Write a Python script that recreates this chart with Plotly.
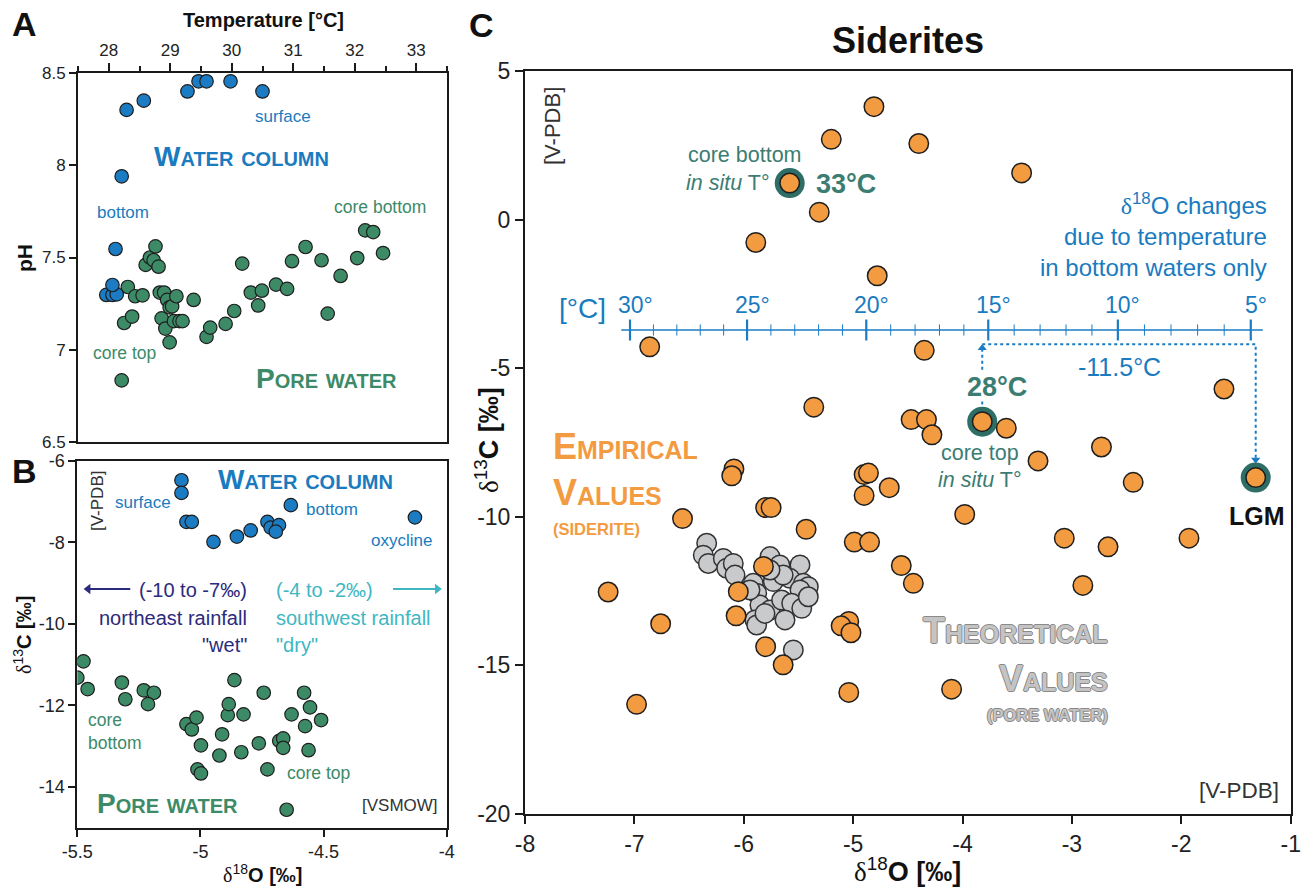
import numpy as np
import plotly.graph_objects as go

W, H = 1306, 890
FONT = "Liberation Sans, Arial, Helvetica, sans-serif"
SERIF = "Liberation Serif, Times New Roman, serif"

BLUE = "#1b7cc4"
GREEN = "#3d8b66"
ORANGE = "#f29b40"
GREY = "#c9cacc"
EDGE = "#1e1e1e"
RING = "#2f6e66"
BLUE_TXT = "#1a7bbf"
GREEN_TXT = "#3c8a68"
TEAL_TXT = "#3b7d72"
NAVY = "#2c2a7c"
CYAN = "#3fb7c2"
AXIS = "#1a1a1a"

# ---------------- Panel A: temperature vs pH ----------------
a_water_temp = [27.96, 28.06, 28.13, 28.06, 28.11, 28.21, 28.29, 28.57, 29.28, 29.46, 29.59, 29.98, 30.50]
a_water_ph = [7.297, 7.297, 7.300, 7.351, 7.546, 7.940, 8.300, 8.350, 8.400, 8.455, 8.455, 8.455, 8.400]

a_pore_temp = [28.21, 28.25, 28.38, 28.31, 28.43, 28.55, 28.60, 28.67, 28.73, 28.76, 28.81,
               28.83, 28.90, 28.95, 28.99, 29.03, 29.10, 28.86, 28.92, 28.99, 29.06, 29.15,
               29.20, 29.38, 29.59, 29.65, 29.90, 30.04, 30.17, 30.31, 30.43, 30.49, 30.72,
               30.90, 30.98, 31.20, 31.46, 31.56, 31.77, 32.04, 32.17, 32.30, 32.46]
a_pore_ph = [6.834, 7.145, 7.180, 7.340, 7.290, 7.295, 7.460, 7.500, 7.485, 7.560, 7.450,
             7.310, 7.310, 7.270, 7.230, 7.235, 7.290, 7.170, 7.115, 7.040, 7.155, 7.155,
             7.155, 7.270, 7.070, 7.120, 7.140, 7.210, 7.467, 7.310, 7.240, 7.320, 7.353,
             7.330, 7.480, 7.557, 7.485, 7.196, 7.400, 7.497, 7.647, 7.638, 7.524]

a_temp_ticks = [28, 29, 30, 31, 32, 33]
a_ph_ticks = [6.5, 7, 7.5, 8, 8.5]

# ---------------- Panel B: d18O vs d13C (water) ----------------
b_water_d18o = [-5.077, -5.077, -5.057, -5.035, -4.947, -4.852, -4.796, -4.728, -4.715,
                -4.681, -4.694, -4.633, -4.129]
b_water_d13c = [-6.48, -6.79, -7.50, -7.50, -7.99, -7.86, -7.71, -7.50, -7.64,
                -7.58, -7.74, -7.09, -7.39]

b_pore_d18o = [-5.500, -5.475, -5.458, -5.319, -5.305, -5.230, -5.189, -5.213, -5.057, -5.035,
               -5.016, -4.998, -5.012, -4.998, -4.923, -4.912, -4.889, -4.885, -4.862, -4.825,
               -4.834, -4.763, -4.743, -4.728, -4.680, -4.664, -4.664, -4.630, -4.579, -4.555,
               -4.575, -4.561, -4.510, -4.650]
b_pore_d13c = [-11.32, -10.92, -11.60, -11.44, -11.85, -11.63, -11.69, -11.97, -12.46, -12.59,
               -12.30, -12.98, -13.57, -13.67, -13.23, -12.71, -12.24, -11.97, -11.38, -12.22,
               -13.15, -12.93, -11.69, -13.57, -12.87, -12.81, -13.04, -12.22, -11.69, -12.05,
               -12.51, -13.10, -12.36, -14.56]

b_x_ticks = [-5.5, -5, -4.5, -4]
b_y_ticks = [-6, -8, -10, -12, -14]

# rainfall direction arrows (tail, head) in panel B units
b_arrow_level = -9.145
b_wet_arrow = [-5.285, -5.456]
b_dry_arrow = [-4.218, -4.038]

# ---------------- Panel C: siderites ----------------
c_emp_d18o = [-4.81, -5.20, -5.58, -4.40, -3.46, -5.31, -5.89, -4.78, -6.86, -4.35,
              -1.61, -5.36, -4.47, -4.33, -4.28, -3.82, -3.60, -2.73, -3.31, -2.44,
              -1.32, -4.90, -4.86, -4.90, -4.67, -3.98, -4.99, -4.85, -3.07, -2.67,
              -1.93, -4.56, -4.45, -2.90, -4.10, -5.04, -5.04, -5.11, -5.02, -6.09,
              -6.11, -6.56, -5.80, -5.75, -5.43, -5.82, -6.05, -7.24, -6.07, -6.76,
              -5.80, -5.64, -6.98]
c_emp_d13c = [3.80, 2.70, 1.23, 2.56, 1.57, 0.25, -0.77, -1.89, -4.28, -4.40,
              -5.70, -6.31, -6.73, -6.73, -7.24, -6.80, -7.02, -7.65, -8.12, -8.84,
              -8.68, -8.58, -8.53, -9.28, -9.02, -9.92, -10.85, -10.85, -10.72, -11.01,
              -10.72, -11.64, -12.24, -12.31, -15.80, -15.91, -13.52, -13.67, -13.90, -8.39,
              -8.62, -10.06, -9.69, -9.69, -10.42, -11.67, -12.52, -12.53, -13.33, -13.60,
              -14.37, -14.98, -16.31]

c_theo_d18o = [-6.339, -6.370, -6.324, -6.187, -6.156, -6.096, -6.080, -5.760, -5.670, -5.486,
               -5.913, -5.882, -5.730, -5.578, -5.456, -5.410, -5.486, -5.852, -5.760, -5.654,
               -5.562, -5.470, -5.898, -5.882, -5.806, -5.623, -5.547, -5.943, -5.640, -5.410,
               -5.760]
c_theo_d13c = [-10.89, -11.29, -11.57, -11.40, -11.73, -11.57, -11.96, -11.34, -11.62, -11.62,
               -12.24, -12.57, -12.18, -12.07, -12.24, -12.35, -12.46, -12.97, -13.14, -12.80,
               -12.91, -13.08, -13.47, -13.64, -13.25, -13.47, -14.48, -12.46, -11.96, -12.69,
               -11.79]

# highlighted samples: core bottom, core top, LGM
c_hl_d18o = [-5.58, -3.82, -1.32]
c_hl_d13c = [1.23, -6.80, -8.68]

# temperature scale drawn across panel C
scale_temp = [30, 25, 20, 15, 10, 5]
scale_d18o = [-7.04, -5.97, -4.88, -3.765, -2.58, -1.365]
scale_start, scale_end = -7.12, -1.255
scale_level = -3.715

c_x_ticks = [-8, -7, -6, -5, -4, -3, -2, -1]
c_y_ticks = [5, 0, -5, -10, -15, -20]


def px_x(v):
    return v / W


def px_y(v):
    return 1 - v / H


def labels(vals):
    return [f"{v:g}" for v in vals]


fig = go.Figure()


def dots(x, y, axes, size, color, edge=EDGE, width=1.2, symbol="circle"):
    fig.add_trace(go.Scatter(x=x, y=y, mode="markers", xaxis=axes[0], yaxis=axes[1],
                             marker=dict(size=size, color=color, symbol=symbol,
                                         line=dict(color=edge, width=width)),
                             showlegend=False, hoverinfo="skip"))


def segment(x, y, axes, color, width=2, dash="solid"):
    fig.add_trace(go.Scatter(x=x, y=y, mode="lines", xaxis=axes[0], yaxis=axes[1],
                             line=dict(color=color, width=width, dash=dash),
                             showlegend=False, hoverinfo="skip"))


# Panel A
dots(a_pore_temp, a_pore_ph, ("x", "y"), 13.5, GREEN)
dots(a_water_temp, a_water_ph, ("x", "y"), 13.5, BLUE)

# Panel B
dots(b_pore_d18o, b_pore_d13c, ("x2", "y2"), 13.5, GREEN)
dots(b_water_d18o, b_water_d13c, ("x2", "y2"), 13.5, BLUE)
segment(b_wet_arrow, [b_arrow_level] * 2, ("x2", "y2"), NAVY)
dots([b_wet_arrow[1]], [b_arrow_level], ("x2", "y2"), 9, NAVY, edge=NAVY, width=0,
     symbol="triangle-left")
segment(b_dry_arrow, [b_arrow_level] * 2, ("x2", "y2"), CYAN)
dots([b_dry_arrow[1]], [b_arrow_level], ("x2", "y2"), 9, CYAN, edge=CYAN, width=0,
     symbol="triangle-right")

# Panel C: temperature scale (one minor tick per degree)
segment([scale_start, scale_end], [scale_level] * 2, ("x3", "y3"), BLUE, width=1.6)
minor_pos = []
for i in range(len(scale_d18o) - 1):
    for k in range(1, 5):
        minor_pos.append(scale_d18o[i] + (scale_d18o[i + 1] - scale_d18o[i]) * k / 5)
dots(minor_pos, [scale_level] * len(minor_pos), ("x3", "y3"), 8, BLUE, edge=BLUE, width=1,
     symbol="line-ns")
dots(scale_d18o, [scale_level] * len(scale_d18o), ("x3", "y3"), 15, BLUE, edge=BLUE,
     width=2.2, symbol="line-ns")

# dotted path between core-top and LGM temperatures
path_level = -4.19
segment([c_hl_d18o[1], c_hl_d18o[2], c_hl_d18o[2]], [path_level, path_level, -8.05],
        ("x3", "y3"), BLUE, dash="dot")
segment([c_hl_d18o[1], c_hl_d18o[1]], [-5.05, -4.35], ("x3", "y3"), BLUE, dash="dot")
segment([c_hl_d18o[1], c_hl_d18o[1]], [-6.12, -6.32], ("x3", "y3"), BLUE, dash="dot")
fig.add_trace(go.Scatter(x=[c_hl_d18o[1], c_hl_d18o[2]], y=[-4.32, -8.08], mode="markers",
                         xaxis="x3", yaxis="y3",
                         marker=dict(symbol=["triangle-up", "triangle-down"], size=8, color=BLUE),
                         showlegend=False, hoverinfo="skip"))

# Panel C: points (theoretical under empirical, rings under their samples)
dots(c_theo_d18o, c_theo_d13c, ("x3", "y3"), 19.5, GREY, edge="#333333", width=1.5)
dots(c_hl_d18o, c_hl_d13c, ("x3", "y3"), 30, RING, edge=RING, width=0)
dots(c_emp_d18o, c_emp_d13c, ("x3", "y3"), 19.5, ORANGE, width=1.5)

axis_common = dict(showline=True, linecolor=AXIS, linewidth=2, mirror=True, ticks="outside",
                   tickcolor=AXIS, tickwidth=2, showgrid=False, zeroline=False,
                   fixedrange=True, automargin=False)

fig.update_layout(
    width=W, height=H, margin=dict(l=0, r=0, t=0, b=0, pad=0, autoexpand=False),
    paper_bgcolor="white", plot_bgcolor="white", showlegend=False,
    font=dict(family=FONT, color="#1a1a1a"),
    xaxis=dict(**axis_common, domain=[px_x(78), px_x(447)], anchor="y", side="top",
               range=[27.5, 33.5], tickvals=a_temp_ticks, ticktext=labels(a_temp_ticks),
               ticklen=8, tickfont=dict(size=17, color="#222"),
               minor=dict(dtick=0.5, tick0=27.5, ticks="outside", ticklen=5, tickwidth=1.5,
                          tickcolor=AXIS)),
    yaxis=dict(**axis_common, domain=[px_y(442), px_y(73)], anchor="x",
               range=[6.5, 8.5], tickvals=a_ph_ticks, ticktext=labels(a_ph_ticks), ticklen=7,
               tickfont=dict(size=17, color="#222")),
    xaxis2=dict(**axis_common, domain=[px_x(77.3), px_x(446.7)], anchor="y2",
                range=[-5.5, -4], tickvals=b_x_ticks, ticktext=labels(b_x_ticks), ticklen=7,
                tickfont=dict(size=18, color="#222")),
    yaxis2=dict(**axis_common, domain=[px_y(827.7), px_y(460.7)], anchor="x2",
                range=[-15, -6], tickvals=b_y_ticks, ticktext=labels(b_y_ticks), ticklen=7,
                tickfont=dict(size=18, color="#222")),
    xaxis3=dict(**axis_common, domain=[px_x(525), px_x(1290.7)], anchor="y3",
                range=[-8, -1], tickvals=c_x_ticks, ticktext=labels(c_x_ticks), ticklen=8,
                tickfont=dict(size=23, color="#222")),
    yaxis3=dict(**axis_common, domain=[px_y(814), px_y(71)], anchor="x3",
                range=[-20, 5], tickvals=c_y_ticks, ticktext=labels(c_y_ticks), ticklen=8,
                tickfont=dict(size=23, color="#222")),
)


def note(text, x, y, size, color, bold=False, xanchor="center", yanchor="middle", angle=0,
         variant="normal", italic=False, shadow=None, align="center"):
    f = dict(family=FONT, size=size, color=color, weight="bold" if bold else "normal",
             variant=variant, style="italic" if italic else "normal")
    if shadow:
        f["shadow"] = shadow
    fig.add_annotation(text=text, x=px_x(x), y=px_y(y), xref="paper", yref="paper",
                       showarrow=False, xanchor=xanchor, yanchor=yanchor, textangle=angle,
                       font=f, align=align)


def delta_title(sup, letter):
    return (f"<span style='font-family:{SERIF};font-weight:normal'>δ</span>"
            f"<sup>{sup}</sup><b>{letter} [‰]</b>")


# panel letters
note("A", 24, 24, 34, "#111", bold=True)
note("B", 25, 471, 34, "#111", bold=True)
note("C", 481, 25, 34, "#111", bold=True)

# Panel A labels
note("Temperature [°C]", 263, 20, 20, "#111", bold=True)
note("pH", 25, 258, 21, "#111", bold=True, angle=-90)
note("surface", 283, 116, 17, BLUE_TXT)
note("Water column", 241, 157, 28, BLUE_TXT, bold=True, variant="small-caps")
note("bottom", 123, 213, 17, BLUE_TXT)
note("core bottom", 380, 207, 17.5, GREEN_TXT)
note("core top", 124, 353, 17.5, GREEN_TXT)
note("Pore water", 327, 378, 28, GREEN_TXT, bold=True, variant="small-caps")

# Panel B labels
note("[V-PDB]", 97, 501, 17, "#333", angle=-90)
note("surface", 143, 503, 17, BLUE_TXT)
note("Water column", 305, 479, 28, BLUE_TXT, bold=True, variant="small-caps")
note("bottom", 332, 510, 17, BLUE_TXT)
note("oxycline", 401, 540, 17, BLUE_TXT)
note("(-10 to -7‰)", 249, 590, 20, NAVY, xanchor="right")
note("northeast rainfall", 249, 618, 20, NAVY, xanchor="right")
note("\"wet\"", 249, 645, 20, NAVY, xanchor="right")
note("(-4 to -2‰)", 274, 590, 20, CYAN, xanchor="left")
note("southwest rainfall", 274, 618, 20, CYAN, xanchor="left")
note("\"dry\"", 274, 645, 20, CYAN, xanchor="left")
note("core<br>bottom", 86, 731, 17.5, GREEN_TXT, xanchor="left", align="left")
note("core top", 318, 773, 17.5, GREEN_TXT)
note("Pore water", 167, 803, 28, GREEN_TXT, bold=True, variant="small-caps")
note("[VSMOW]", 440, 805, 17, "#333", xanchor="right")
note(delta_title("13", "C"), 22, 635, 20, "#111", angle=-90)
note(delta_title("18", "O"), 262, 873, 20, "#111")

# Panel C labels
note("Siderites", 908, 40, 36, "#111", bold=True)
note("[V-PDB]", 553, 126, 22, "#333", angle=-90)
note("core bottom", 745, 155, 21.5, TEAL_TXT)
note("<i>in situ</i> T°", 772, 183, 21.5, TEAL_TXT, xanchor="right")
note("33°C", 846, 184, 27, TEAL_TXT, bold=True)
note("<span style='font-family:" + SERIF + "'>δ</span><sup>18</sup>O changes<br>"
     "due to temperature<br>in bottom waters only", 1269, 235, 24, BLUE_TXT,
     xanchor="right", align="right")
note("[°C]", 582, 308, 28, BLUE_TXT)
for t, pos in zip(scale_temp, scale_d18o):
    fig.add_annotation(text=f"{t}°", x=pos, y=scale_level, xref="x3", yref="y3",
                       showarrow=False, yanchor="bottom", yshift=10, xshift=5,
                       font=dict(family=FONT, size=23, color=BLUE_TXT))
note("-11.5°C", 1119, 367, 25, BLUE_TXT)
note("28°C", 997, 387, 27, TEAL_TXT, bold=True)
note("core top", 980, 453, 21.5, TEAL_TXT)
note("<i>in situ</i> T°", 980, 480, 21.5, TEAL_TXT)
note("LGM", 1257, 516, 25, "#111", bold=True)
note("Empirical", 551, 446, 36, ORANGE, bold=True, variant="small-caps", xanchor="left")
note("Values", 551, 492, 36, ORANGE, bold=True, variant="small-caps", xanchor="left")
note("(SIDERITE)", 551, 529, 16.5, ORANGE, bold=True, xanchor="left")
outline = "1px 0 #8a8a8a, -1px 0 #8a8a8a, 0 1px #8a8a8a, 0 -1px #8a8a8a"
note("Theoretical", 1110, 630, 36, "#c4c4c4", bold=True, variant="small-caps",
     xanchor="right", shadow=outline)
note("Values", 1110, 678, 36, "#c4c4c4", bold=True, variant="small-caps",
     xanchor="right", shadow=outline)
note("(PORE WATER)", 1110, 715, 16.5, "#c4c4c4", bold=True, xanchor="right", shadow=outline)
note("[V-PDB]", 1281, 790, 22.5, "#333", xanchor="right")
note(delta_title("13", "C"), 487, 440, 27, "#111", angle=-90)
note(delta_title("18", "O"), 907, 870, 27, "#111")

fig.write_html("out.html")
